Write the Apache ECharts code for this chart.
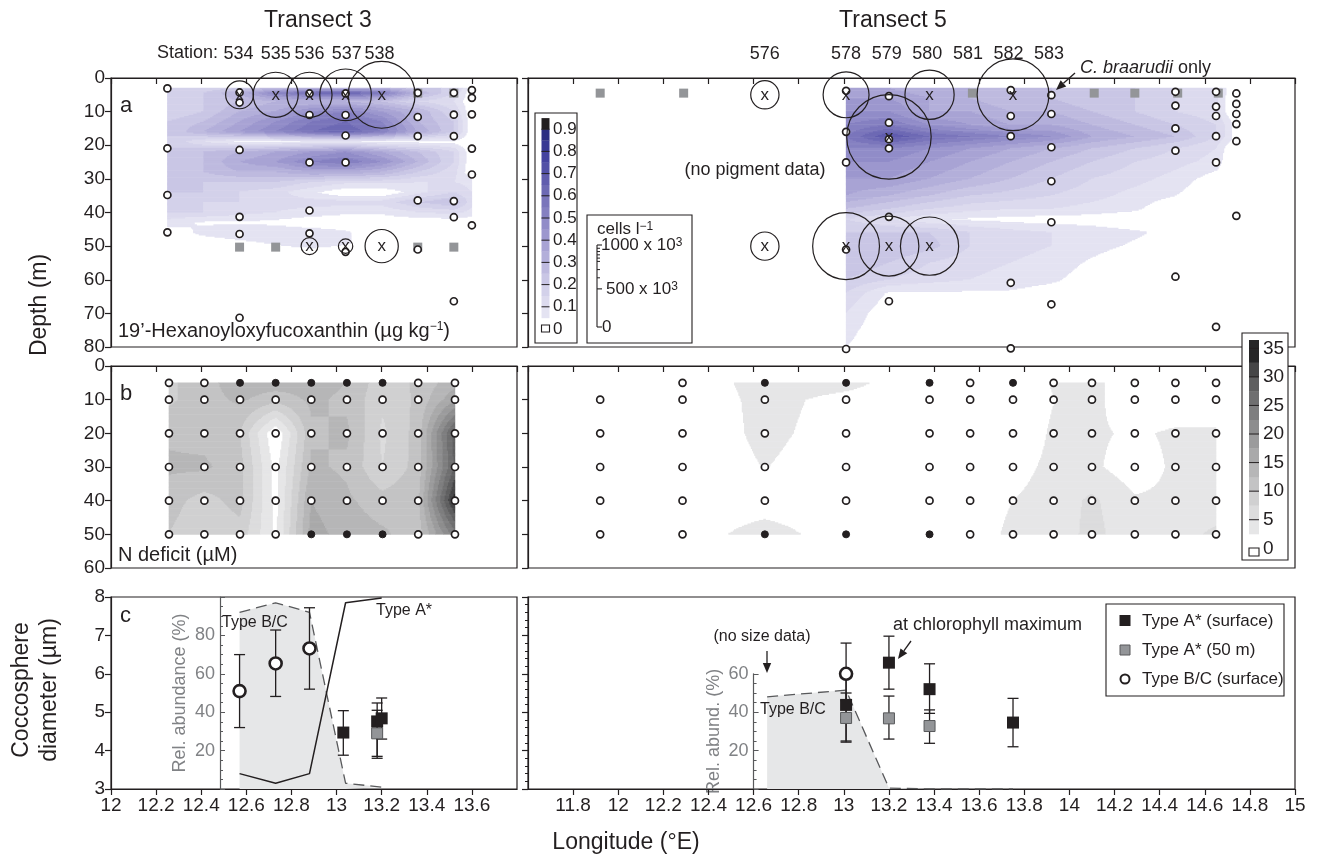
<!DOCTYPE html>
<html>
<head>
<meta charset="utf-8">
<title>Transects 3 and 5</title>
<script src="https://cdn.jsdelivr.net/npm/echarts@6/dist/echarts.min.js"></script>
<style>
  html, body { margin: 0; padding: 0; background: #fff; }
  #chart { width: 1320px; height: 858px; }
</style>
</head>
<body>
<div id="chart"></div>
<script>
// ---------------- station labels ----------------
const stationT3 = ['534', '535', '536', '537', '538'];
const stationLonT3 = [12.565, 12.73, 12.88, 13.045, 13.19];
const stationT5 = ['576', '578', '579', '580', '581', '582', '583'];
const stationLonT5 = [12.65, 13.01, 13.19, 13.37, 13.55, 13.73, 13.91];

// ---------------- panel a: 19'-Hex (ug/kg), gridded ----------------
const hexT3Lon = [12.25, 12.41, 12.57, 12.73, 12.89, 13.04, 13.20, 13.36, 13.52, 13.60];
const hexT3Depth = [3, 4.5, 7, 10, 13, 16, 19, 22, 25, 28, 31, 34, 37, 40, 43, 46, 49, 52];
const hexT3 = [
  [0.15, 0.15, 0.20, 0.25, 0.30, 0.30, 0.30, 0.20, 0.20, 0],
  [0.15, 0.20, 0.30, 0.50, 0.60, 0.65, 0.55, 0.30, 0.15, 0],
  [0.15, 0.20, 0.25, 0.30, 0.30, 0.30, 0.25, 0.15, 0.10, 0],
  [0.15, 0.20, 0.30, 0.35, 0.45, 0.50, 0.40, 0.30, 0.15, 0],
  [0.20, 0.25, 0.35, 0.45, 0.55, 0.60, 0.50, 0.30, 0.20, 0],
  [0.20, 0.30, 0.40, 0.50, 0.60, 0.65, 0.55, 0.35, 0.20, 0],
  [0.20, 0.10, 0.03, 0.03, 0.04, 0.04, 0.03, 0.03, 0.03, 0],
  [0.20, 0.25, 0.30, 0.35, 0.40, 0.45, 0.35, 0.25, 0.15, 0],
  [0.20, 0.25, 0.35, 0.40, 0.50, 0.55, 0.45, 0.30, 0.15, 0],
  [0.20, 0.25, 0.30, 0.30, 0.35, 0.35, 0.30, 0.20, 0.12, 0],
  [0.20, 0.20, 0.20, 0.20, 0.15, 0.12, 0.12, 0.10, 0.10, 0.08],
  [0.20, 0.20, 0.15, 0.12, 0.06, 0.00, 0.00, 0.08, 0.15, 0.10],
  [0.20, 0.15, 0.15, 0.12, 0.12, 0.12, 0.12, 0.20, 0.25, 0.12],
  [0.15, 0.15, 0.12, 0.10, 0.08, 0.06, 0.06, 0.10, 0.12, 0.08],
  [0.08, 0.04, 0.04, 0.03, 0.00, 0.00, 0.00, 0.00, 0.00, 0],
  [0.00, 0.07, 0.10, 0.10, 0.09, 0.06, 0.00, 0.00, 0.00, 0],
  [0.00, 0.00, 0.03, 0.06, 0.10, 0.06, 0.00, 0.00, 0.00, 0],
  [0, 0, 0, 0, 0, 0, 0, 0, 0, 0]
];

const hexT5Lon = [13.01, 13.20, 13.38, 13.56, 13.74, 13.92, 14.10, 14.29, 14.47, 14.65, 14.72];
const hexT5Depth = [3, 6, 10, 14, 17.5, 21, 25, 30, 35, 39, 42, 46, 50, 55, 60, 64, 70, 75, 80];
const hexT5 = [
  [0.35, 0.35, 0.30, 0.30, 0.25, 0.25, 0.20, 0.20, 0.15, 0.15, 0],
  [0.40, 0.40, 0.35, 0.30, 0.25, 0.25, 0.20, 0.20, 0.15, 0.12, 0],
  [0.45, 0.45, 0.35, 0.35, 0.30, 0.30, 0.25, 0.20, 0.15, 0.12, 0],
  [0.50, 0.55, 0.45, 0.40, 0.35, 0.35, 0.30, 0.25, 0.20, 0.15, 0.06],
  [0.55, 0.70, 0.60, 0.55, 0.50, 0.45, 0.35, 0.30, 0.25, 0.15, 0.06],
  [0.50, 0.50, 0.45, 0.40, 0.35, 0.30, 0.25, 0.20, 0.15, 0.10, 0],
  [0.45, 0.45, 0.40, 0.35, 0.30, 0.25, 0.20, 0.15, 0.12, 0.08, 0],
  [0.40, 0.40, 0.35, 0.30, 0.25, 0.20, 0.15, 0.12, 0.08, 0.02, 0],
  [0.35, 0.30, 0.25, 0.20, 0.18, 0.15, 0.12, 0.08, 0.05, 0, 0],
  [0.25, 0.20, 0.15, 0.12, 0.10, 0.10, 0.08, 0.06, 0, 0, 0],
  [0.15, 0.10, 0.06, 0.04, 0.03, 0.02, 0.02, 0, 0, 0, 0],
  [0.20, 0.20, 0.20, 0.15, 0.12, 0.10, 0.08, 0.06, 0.03, 0, 0],
  [0.25, 0.25, 0.22, 0.15, 0.12, 0.10, 0.07, 0.04, 0, 0, 0],
  [0.25, 0.20, 0.15, 0.12, 0.10, 0.08, 0.04, 0, 0, 0, 0],
  [0.20, 0.15, 0.12, 0.10, 0.08, 0.06, 0.02, 0, 0, 0, 0],
  [0.15, 0.04, 0.04, 0.04, 0.04, 0.02, 0, 0, 0, 0, 0],
  [0.10, 0, 0, 0, 0, 0, 0, 0, 0, 0, 0],
  [0.07, 0, 0, 0, 0, 0, 0, 0, 0, 0, 0],
  [0.05, 0, 0, 0, 0, 0, 0, 0, 0, 0, 0]
];

// pigment sampling depths [lon, depth]
const hexSamplesT3 = [
  [12.25, 3.1], [12.25, 20.9], [12.25, 34.8], [12.25, 45.9],
  [12.57, 4.3], [12.57, 7.3], [12.57, 21.4], [12.57, 41.3], [12.57, 46.4], [12.57, 71.3],
  [12.88, 4.6], [12.88, 11], [12.88, 25.1], [12.88, 39.4], [12.88, 46.2],
  [13.04, 4.6], [13.04, 11], [13.04, 17.1], [13.04, 25.1], [13.04, 51.7],
  [13.36, 4.4], [13.36, 11.6], [13.36, 17.3], [13.36, 36.4], [13.36, 51],
  [13.52, 4.4], [13.52, 10.9], [13.52, 17.3], [13.52, 36.6], [13.52, 41.4], [13.52, 66.4],
  [13.60, 3.6], [13.60, 5.9], [13.60, 10.8], [13.60, 21], [13.60, 28.7], [13.60, 43.8]
];
const hexSamplesT5 = [
  [13.01, 3.8], [13.01, 16], [13.01, 25.1], [13.01, 51], [13.01, 80.6],
  [13.20, 5.4], [13.20, 13.3], [13.20, 18.2], [13.20, 20.9], [13.20, 41.3], [13.20, 66.4],
  [13.74, 3.6], [13.74, 11.3], [13.74, 17.3], [13.74, 60.9], [13.74, 80.4],
  [13.92, 5.1], [13.92, 10.7], [13.92, 20.6], [13.92, 30.7], [13.92, 42.9], [13.92, 67.3],
  [14.47, 4.1], [14.47, 8.2], [14.47, 15], [14.47, 21.6], [14.47, 59.1],
  [14.65, 4.1], [14.65, 8.5], [14.65, 11.3], [14.65, 17.3], [14.65, 25.1], [14.65, 74],
  [14.74, 4.6], [14.74, 7.7], [14.74, 10.7], [14.74, 13.7], [14.74, 18.8], [14.74, 41]
];

// coccolithophore counts with no cells found [lon, depth]
const zeroCellsT3 = [[13.36, 4.5], [13.52, 4.5], [12.57, 50.3], [12.73, 50.3], [13.36, 50.3], [13.52, 50.3]];
const zeroCellsT5 = [[11.92, 4.5], [12.29, 4.5], [13.57, 4.5], [14.11, 4.5], [14.29, 4.5], [14.48, 4.5], [14.66, 4.5]];

// C. braarudii cell counts [lon, depth, cells (x10^3 per litre)]
const cellsT3 = [
  [12.57, 5, 340], [12.73, 5, 550], [12.88, 5, 550], [13.04, 5, 630], [13.20, 5, 815],
  [12.88, 50, 205], [13.04, 50, 175], [13.20, 50, 405]
];
const cellsT5 = [
  [12.65, 5, 345], [13.01, 5, 560], [13.20, 17.5, 1030], [13.38, 5, 600], [13.75, 5, 875],
  [12.65, 50, 345], [13.01, 50, 815], [13.20, 50, 730], [13.38, 50, 710]
];

// ---------------- panel b: N deficit (uM), gridded ----------------
const ndefDepth = [5, 10, 20, 30, 40, 50];
const ndefT3Lon = [12.257, 12.414, 12.572, 12.73, 12.888, 13.046, 13.204, 13.362, 13.525];
const ndefT3 = [
  [9.5, 11.5, 14, 14, 13.5, 12.5, 8.5, 10.5, 14],
  [9.5, 11.5, 13, 11, 13, 12, 8, 10.5, 17],
  [12, 11.5, 10, 0, 12, 13, 7, 11, 29],
  [13, 13, 11, 1.5, 13, 12, 7.5, 11, 28],
  [11, 9, 11, 1.5, 15, 13, 11, 12, 34],
  [10, 8, 9, 2, 16, 14, 13, 11, 24]
];
const ndefT5Lon = [11.92, 12.285, 12.65, 13.01, 13.38, 13.56, 13.75, 13.93, 14.10, 14.29, 14.47, 14.65];
const ndefT5 = [
  [0, 0, 4, 3.5, 0, 0, 0, 2.8, 3.5, 0, 2.7, 0],
  [0, 0, 3.5, 1.5, 0, 0, 0, 2.4, 3.5, 0, 0, 0],
  [0, 0, 3.3, 1, 0, 0, 0, 3, 3, 2, 3, 3],
  [0, 0, 2.6, 0.5, 0, 0, 1.5, 3.2, 3, 1, 3, 3],
  [0, 0, 0, 0, 0, 0, 2.5, 3.5, 5.5, 2.8, 3, 3.5],
  [0, 0, 4.5, 0, 0, 0, 3.5, 3, 6, 3, 4, 5.5]
];
// nutrient samples drawn as filled dots; missing nodes
const ndefFilledT3 = [[12.572, 5], [12.73, 5], [12.888, 5], [13.046, 5], [13.204, 5], [12.888, 50], [13.046, 50], [13.204, 50]];
const ndefFilledT5 = [[12.65, 5], [13.01, 5], [13.38, 5], [13.75, 5], [12.65, 50], [13.01, 50], [13.38, 50]];
const ndefMissingT5 = [[11.92, 5]];

// ---------------- panel c: relative abundance (%) and size (um) ----------------
const relLonT3 = [12.57, 12.73, 12.88, 13.04, 13.20];
const relBCT3 = [92, 97, 92, 3, 1];
const relAT3 = [8, 3, 8, 97, 99.5];
const relLonT5 = [12.66, 13.01, 13.20, 13.38, 13.56, 13.75];
const relBCT5 = [48, 51.5, 0.5, 0, 0, 0];

// [lon, mean diameter, low, high]
const sizeBCT3 = [[12.57, 5.55, 4.6, 6.5], [12.73, 6.27, 5.41, 7.14], [12.88, 6.66, 5.6, 7.72]];
const sizeAT3 = [[13.03, 4.47, 3.88, 5.04], [13.18, 4.76, 3.8, 5.24], [13.20, 4.84, 4.3, 5.37]];
const sizeA50T3 = [[13.18, 4.45, 3.85, 5.05]];
const sizeBCT5 = [[13.01, 6.0, 5.3, 6.8]];
const sizeAT5 = [[13.01, 5.19, 4.25, 5.9], [13.20, 6.29, 5.6, 6.98], [13.38, 5.6, 4.97, 6.26], [13.75, 4.73, 4.1, 5.36]];
const sizeA50T5 = [[13.01, 4.85, 4.22, 5.5], [13.20, 4.84, 4.3, 5.42], [13.38, 4.64, 4.19, 5.06]];

// colour scale tick labels
const hexTicks = [0, 0.1, 0.2, 0.3, 0.4, 0.5, 0.6, 0.7, 0.8, 0.9];
const ndefTicks = [0, 5, 10, 15, 20, 25, 30, 35];

// ================= drawing =================
const FONT = '"Liberation Sans", Arial, Helvetica, sans-serif';
const INK = '#231f20';
const GRAY_SQ = '#939598';
const CELL_PX = 0.082;          // circle diameter in px per 10^3 cells l^-1

// layout (pixels)
const L_LEFT = 111, L_RIGHT = 517, R_LEFT = 528, R_RIGHT = 1295;
const A_TOP = 78, A_BOT = 347, B_TOP = 366, B_BOT = 568, C_TOP = 597, C_BOT = 789;
const PX_DEG = (R_RIGHT - R_LEFT) / 3.4;
const REL_R_LEFT = R_LEFT + (12.6 - 11.6) * PX_DEG;
const REL_R_H = 0.6 * (C_BOT - C_TOP);

function bilinear(xs, ys, g, x, y) {
  let i = 0; while (i < xs.length - 2 && x > xs[i + 1]) i++;
  let j = 0; while (j < ys.length - 2 && y > ys[j + 1]) j++;
  const tx = (x - xs[i]) / (xs[i + 1] - xs[i]);
  const ty = (y - ys[j]) / (ys[j + 1] - ys[j]);
  const a = g[j][i] * (1 - tx) + g[j][i + 1] * tx;
  const b = g[j + 1][i] * (1 - tx) + g[j + 1][i + 1] * tx;
  return a * (1 - ty) + b * ty;
}

// filled-contour cells: runs of equal band along each thin depth strip
function contourCells(xs, ys, g, step, dx, dy) {
  const out = [];
  const x0 = xs[0], x1 = xs[xs.length - 1], y0 = ys[0], y1 = ys[ys.length - 1];
  const nx = Math.ceil((x1 - x0) / dx), ny = Math.ceil((y1 - y0) / dy);
  const sx = (x1 - x0) / nx, sy = (y1 - y0) / ny;
  for (let j = 0; j < ny; j++) {
    const ya = y0 + j * sy, yb = ya + sy, yc = ya + sy / 2;
    let start = 0, band = -1;
    for (let i = 0; i <= nx; i++) {
      let b = -2;
      if (i < nx) b = Math.floor(bilinear(xs, ys, g, x0 + (i + 0.5) * sx, yc) / step + 1e-9);
      if (b !== band) {
        if (band > 0) out.push([x0 + start * sx, x0 + i * sx, ya, yb, band]);
        band = b; start = i;
      }
    }
  }
  return out;
}

function mix(stops, v) {
  if (v <= stops[0][0]) return stops[0][1];
  for (let k = 0; k < stops.length - 1; k++) {
    const [a, ca] = stops[k], [b, cb] = stops[k + 1];
    if (v <= b) {
      const t = (v - a) / (b - a);
      return ca.map((c, n) => Math.round(c + (cb[n] - c) * t));
    }
  }
  return stops[stops.length - 1][1];
}
const hexStops = [[0.075, [228, 227, 242]], [0.2, [207, 204, 232]], [0.4, [162, 157, 209]],
                  [0.6, [116, 111, 184]], [0.8, [62, 61, 156]], [0.875, [44, 46, 130]]];
function hexColor(band) {
  if (band >= 18) return INK;
  const c = mix(hexStops, band * 0.05 + 0.025);
  return 'rgb(' + c.join(',') + ')';
}
const ndefGrays = [255, 230, 220, 208, 195, 182, 169, 155, 141, 126, 111, 95, 70, 38];
function ndefColor(band) {
  const g = ndefGrays[Math.min(band, ndefGrays.length - 1)];
  return 'rgb(' + g + ',' + g + ',' + (g + 1 > 255 ? 255 : g + 1) + ')';
}

function contourSeries(xi, yi, cells, colorFn) {
  return {
    type: 'custom', xAxisIndex: xi, yAxisIndex: yi, data: cells, silent: true, z: 1,
    encode: { x: [0, 1], y: [2, 3] },
    renderItem: (p, api) => {
      const a = api.coord([api.value(0), api.value(2)]);
      const b = api.coord([api.value(1), api.value(3)]);
      return {
        type: 'rect',
        shape: { x: Math.min(a[0], b[0]) - 0.2, y: Math.min(a[1], b[1]) - 0.3,
                 width: Math.abs(b[0] - a[0]) + 0.4, height: Math.abs(b[1] - a[1]) + 0.6 },
        style: { fill: colorFn(api.value(4)) }
      };
    }
  };
}

function errorSeries(xi, yi, rows) {
  return {
    type: 'custom', xAxisIndex: xi, yAxisIndex: yi, silent: true, z: 4,
    data: rows.map(r => [r[0], r[2], r[3]]), encode: { x: 0, y: [1, 2] },
    renderItem: (p, api) => {
      const lo = api.coord([api.value(0), api.value(1)]);
      const hi = api.coord([api.value(0), api.value(2)]);
      const w = 5.5, st = { stroke: INK, lineWidth: 1.3 };
      return { type: 'group', children: [
        { type: 'line', shape: { x1: lo[0], y1: lo[1], x2: hi[0], y2: hi[1] }, style: st },
        { type: 'line', shape: { x1: lo[0] - w, y1: lo[1], x2: lo[0] + w, y2: lo[1] }, style: st },
        { type: 'line', shape: { x1: hi[0] - w, y1: hi[1], x2: hi[0] + w, y2: hi[1] }, style: st }
      ] };
    }
  };
}

function pts(xi, yi, data, style, size, symbol, z) {
  return { type: 'scatter', xAxisIndex: xi, yAxisIndex: yi, data: data, symbol: symbol || 'circle',
           symbolSize: size, itemStyle: Object.assign({ opacity: 1 }, style), silent: true, clip: false, z: z || 4 };
}
const openDot = { color: '#fff', borderColor: INK, borderWidth: 1.7 };
const fillDot = { color: INK, borderColor: INK, borderWidth: 1 };

function cellCircles(xi, yi, data) {
  return {
    type: 'scatter', xAxisIndex: xi, yAxisIndex: yi, data: data, clip: false, silent: true, z: 6,
    symbol: 'circle', symbolSize: v => v[2] * CELL_PX,
    itemStyle: { color: 'rgba(0,0,0,0)', borderColor: INK, borderWidth: 1.2, opacity: 1 },
    label: { show: true, position: 'inside', formatter: 'x', fontFamily: FONT, fontSize: 17, color: INK }
  };
}

function stationSeries(xi, yi, lons, names) {
  return {
    type: 'scatter', xAxisIndex: xi, yAxisIndex: yi, clip: false, silent: true, symbolSize: 0,
    itemStyle: { opacity: 1 },
    data: lons.map((l, i) => ({ value: [l, 0], name: names[i] })),
    label: { show: true, position: 'top', distance: 15, formatter: p => p.name,
             fontFamily: FONT, fontSize: 18, color: INK }
  };
}

// nutrient sample markers from grid nodes
function ndefNodes(lons, filled, missing) {
  const open = [], full = [];
  const has = (list, l, d) => list.some(p => Math.abs(p[0] - l) < 1e-6 && p[1] === d);
  ndefDepth.forEach(d => lons.forEach(l => {
    if (has(missing, l, d)) return;
    (has(filled, l, d) ? full : open).push([l, d]);
  }));
  return { open, full };
}
const nodesT3 = ndefNodes(ndefT3Lon, ndefFilledT3, []);
const nodesT5 = ndefNodes(ndefT5Lon, ndefFilledT5, ndefMissingT5);

// ---------- axes ----------
const axLine = { show: true, lineStyle: { color: INK, width: 1.2 } };
const tick = { show: true, length: 6, lineStyle: { color: INK, width: 1.2 } };
function lonAxis(gi, min, max, labels, hideMin, hideMax) {
  return {
    type: 'value', gridIndex: gi, min: min, max: max, interval: 0.2, position: 'bottom',
    axisLine: axLine, axisTick: tick, splitLine: { show: false },
    axisLabel: { show: labels, color: INK, fontFamily: FONT, fontSize: 19, margin: 7,
                 showMinLabel: !hideMin, showMaxLabel: !hideMax,
                 formatter: v => String(Math.round(v * 10) / 10) }
  };
}
function depthAxis(gi, max, labels) {
  return {
    type: 'value', gridIndex: gi, min: 0, max: max, interval: 10, inverse: true, position: 'left',
    axisLine: axLine, axisTick: tick, splitLine: { show: false },
    axisLabel: { show: labels, color: INK, fontFamily: FONT, fontSize: 19, margin: 6 }
  };
}
function gridBox(left, top, width, height, show) {
  return { left: left, top: top, width: width, height: height, show: show !== false,
           borderColor: INK, borderWidth: 1.2, backgroundColor: 'transparent',
           containLabel: false, outerBoundsMode: 'none' };
}

// ---------- graphic helpers ----------
function T(text, x, y, o) {
  o = o || {};
  return { type: 'text', x: x, y: y, rotation: o.rot || 0, z: 100,
    style: { text: text, fill: o.fill || INK, fontFamily: FONT, fontSize: o.size || 18,
             fontStyle: o.italic ? 'italic' : 'normal',
             textAlign: o.align || 'left', textVerticalAlign: 'middle', rich: o.rich } };
}
function Ln(x1, y1, x2, y2, w) {
  return { type: 'line', z: 100, shape: { x1, y1, x2, y2 }, style: { stroke: INK, lineWidth: w || 1.2 } };
}
function Rc(x, y, w, h, fill, stroke) {
  return { type: 'rect', z: 99, shape: { x, y, width: w, height: h },
           style: { fill: fill || 'none', stroke: stroke || null, lineWidth: 1.1 } };
}
function arrow(x1, y1, x2, y2) {
  const ang = Math.atan2(y2 - y1, x2 - x1), L = 10, W = 4.2;
  const bx = x2 - L * Math.cos(ang), by = y2 - L * Math.sin(ang);
  const nx = -Math.sin(ang) * W, ny = Math.cos(ang) * W;
  return [Ln(x1, y1, bx, by, 1.3),
    { type: 'polygon', z: 100, shape: { points: [[x2, y2], [bx + nx, by + ny], [bx - nx, by - ny]] }, style: { fill: INK } }];
}
const sup = { fontFamily: FONT, fontSize: 12, verticalAlign: 'top', lineHeight: 12, fill: INK };

const g = [];
g.push(T('Transect 3', 318, 21, { size: 23, align: 'center' }));
g.push(T('Transect 5', 893, 21, { size: 23, align: 'center' }));
g.push(T('Station:', 218, 53, { size: 18, align: 'right' }));
g.push(T('a', 120, 106, { size: 22 }));
g.push(T('b', 120, 394, { size: 22 }));
g.push(T('c', 120, 616, { size: 22 }));
g.push(T('19’-Hexanoyloxyfucoxanthin (µg kg{s|−1})', 118, 331,
  { size: 20, rich: { s: sup } }));
g.push(T('(no pigment data)', 755, 170, { size: 18, align: 'center' }));
g.push(T('{i|C. braarudii} only', 1080, 68,
  { size: 18, rich: { i: { fontFamily: FONT, fontSize: 18, fontStyle: 'italic', fill: INK } } }));
g.push(...arrow(1075, 73, 1056, 90));
g.push(T('N deficit (µM)', 118, 555, { size: 20 }));
g.push(T('Type B/C', 222, 623, { size: 16 }));
g.push(T('Type A*', 376, 611, { size: 16 }));
g.push(T('Type B/C', 760, 710, { size: 16 }));
g.push(T('(no size data)', 762, 637, { size: 16, align: 'center' }));
g.push(...arrow(767, 651, 767, 673));
g.push(T('at chlorophyll maximum', 893, 625, { size: 18 }));
g.push(...arrow(911, 641, 898, 659));
g.push(T('Longitude (°E)', 626, 843, { size: 23, align: 'center' }));
g.push(T('Depth (m)', 40, 305, { size: 23, align: 'center', rot: Math.PI / 2 }));
g.push(T('Coccosphere', 22, 690, { size: 23, align: 'center', rot: Math.PI / 2 }));
g.push(T('diameter (µm)', 50, 690, { size: 23, align: 'center', rot: Math.PI / 2 }));

// legend for panel c
g.push(Rc(1106, 604, 178, 92, '#fff', INK));
g.push({ type: 'rect', z: 100, shape: { x: 1119.5, y: 615, width: 11, height: 11 }, style: { fill: INK } });
g.push({ type: 'rect', z: 100, shape: { x: 1120, y: 645, width: 10, height: 10 }, style: { fill: GRAY_SQ, stroke: '#58595b', lineWidth: 1 } });
g.push({ type: 'circle', z: 100, shape: { cx: 1125, cy: 679, r: 4.5 }, style: { fill: '#fff', stroke: INK, lineWidth: 2 } });
g.push(T('Type A* (surface)', 1142, 621, { size: 17 }));
g.push(T('Type A* (50 m)', 1142, 650, { size: 17 }));
g.push(T('Type B/C (surface)', 1142, 679, { size: 17 }));

// colour bar for 19'-Hex
(function () {
  const x = 541.5, w = 8, y0 = 329, per = 222;
  g.push(Rc(535, 113, 42, 230, '#fff', INK));
  for (let k = 1; k <= 18; k++) {
    const ya = y0 - (k + 1) * 0.05 * per, yb = y0 - k * 0.05 * per;
    g.push({ type: 'rect', z: 100, shape: { x: x, y: ya, width: w, height: yb - ya + 0.3 }, style: { fill: hexColor(k) } });
  }
  g.push(Rc(x, 325, w, 7, '#fff', INK));
  hexTicks.forEach(v => {
    if (v > 0) g.push(Ln(x, y0 - v * per, x + w, y0 - v * per, 1));
    g.push(T(String(v), 553, y0 - v * per, { size: 17 }));
  });
})();

// circle size scale
(function () {
  g.push(Rc(587, 215, 105, 128, '#fff', INK));
  g.push(T('cells l{s|−1}', 597, 229, { size: 17, rich: { s: sup } }));
  const x = 597, yTop = 245, yBot = 327, len = yBot - yTop;
  g.push(Ln(x, yTop, x, yBot, 1.1));
  g.push(Ln(x, yTop, x + 5, yTop, 1.1));
  g.push(Ln(x, yBot, x + 5, yBot, 1.1));
  g.push(Ln(x, yBot - 0.5 * len * 0.93, x + 5, yBot - 0.5 * len * 0.93, 1.1));
  [0.96, 0.92, 0.88, 0.84, 0.8, 0.7, 0.6].forEach(f => g.push(Ln(x, yBot - f * len, x + 3, yBot - f * len, 1)));
  g.push(T('1000 x 10{s|3}', 601, yTop, { size: 17, rich: { s: sup } }));
  g.push(T('500 x 10{s|3}', 606, yBot - 0.5 * len * 0.93, { size: 17, rich: { s: sup } }));
  g.push(T('0', 602, yBot, { size: 17 }));
})();

// colour bar for N deficit
(function () {
  const x = 1249, w = 10, y0 = 548.3, per = 200 / 35;
  g.push(Rc(1242, 333, 46, 227, '#fff', INK));
  for (let k = 1; k <= 13; k++) {
    const ya = k === 13 ? 340 : y0 - (k + 1) * 2.5 * per, yb = y0 - k * 2.5 * per;
    g.push({ type: 'rect', z: 100, shape: { x: x, y: ya, width: w, height: yb - ya + 0.3 }, style: { fill: ndefColor(k) } });
  }
  g.push(Rc(x, 548, w, 8, '#fff', INK));
  ndefTicks.forEach(v => {
    if (v > 0) g.push(Ln(x, y0 - v * per, x + w, y0 - v * per, 1));
    g.push(T(String(v), 1263, y0 - v * per, { size: 19 }));
  });
})();

const option = {
  animation: false,
  backgroundColor: '#fff',
  textStyle: { fontFamily: FONT },
  grid: [
    gridBox(L_LEFT, A_TOP, L_RIGHT - L_LEFT, A_BOT - A_TOP),
    gridBox(R_LEFT, A_TOP, R_RIGHT - R_LEFT, A_BOT - A_TOP),
    gridBox(L_LEFT, B_TOP, L_RIGHT - L_LEFT, B_BOT - B_TOP),
    gridBox(R_LEFT, B_TOP, R_RIGHT - R_LEFT, B_BOT - B_TOP),
    gridBox(L_LEFT, C_TOP, L_RIGHT - L_LEFT, C_BOT - C_TOP),
    gridBox(R_LEFT, C_TOP, R_RIGHT - R_LEFT, C_BOT - C_TOP),
    gridBox(REL_R_LEFT, C_BOT - REL_R_H, R_RIGHT - REL_R_LEFT, REL_R_H, false)
  ],
  xAxis: [
    lonAxis(0, 12, 13.8, false, false, true),
    lonAxis(1, 11.6, 15, false, true, false),
    lonAxis(2, 12, 13.8, false, false, true),
    lonAxis(3, 11.6, 15, false, true, false),
    lonAxis(4, 12, 13.8, true, false, true),
    lonAxis(5, 11.6, 15, true, true, false),
    { type: 'value', gridIndex: 6, min: 12.6, max: 15, show: false }
  ],
  yAxis: [
    depthAxis(0, 80, true),
    depthAxis(1, 80, false),
    depthAxis(2, 60, true),
    depthAxis(3, 60, false),
    { type: 'value', gridIndex: 4, min: 3, max: 8, interval: 1, position: 'left',
      axisLine: axLine, axisTick: tick, splitLine: { show: false },
      axisLabel: { color: INK, fontFamily: FONT, fontSize: 19, margin: 6 } },
    { type: 'value', gridIndex: 5, min: 3, max: 8, interval: 1, position: 'left',
      axisLine: axLine, axisTick: tick, splitLine: { show: false }, axisLabel: { show: false },
      minorTick: { show: true, splitNumber: 5, length: 3, lineStyle: { color: INK, width: 1 } } },
    { type: 'value', gridIndex: 4, min: 0, max: 100, interval: 20, position: 'left', offset: -(220 - L_LEFT),
      name: 'Rel. abundance (%)', nameLocation: 'middle', nameGap: 31, nameRotate: 90,
      nameTextStyle: { color: '#808285', fontFamily: FONT, fontSize: 18 },
      axisLine: { show: true, lineStyle: { color: '#58595b', width: 1.2 } },
      axisTick: { show: true, inside: true, length: 5, lineStyle: { color: '#58595b', width: 1 } },
      minorTick: { show: true, splitNumber: 4, length: 3, lineStyle: { color: '#58595b', width: 1 } },
      splitLine: { show: false },
      axisLabel: { color: '#808285', fontFamily: FONT, fontSize: 18, margin: 5, showMinLabel: false, showMaxLabel: false } },
    { type: 'value', gridIndex: 6, min: 0, max: 60, interval: 20, position: 'left',
      name: 'Rel. abund. (%)', nameLocation: 'middle', nameGap: 31, nameRotate: 90,
      nameTextStyle: { color: '#808285', fontFamily: FONT, fontSize: 18 },
      axisLine: { show: true, lineStyle: { color: '#58595b', width: 1.2 } },
      axisTick: { show: true, inside: true, length: 5, lineStyle: { color: '#58595b', width: 1 } },
      minorTick: { show: true, splitNumber: 4, length: 3, lineStyle: { color: '#58595b', width: 1 } },
      splitLine: { show: false },
      axisLabel: { color: '#808285', fontFamily: FONT, fontSize: 18, margin: 5, showMinLabel: false } }
  ],
  series: [
    // panel a
    contourSeries(0, 0, contourCells(hexT3Lon, hexT3Depth, hexT3, 0.05, 0.005, 0.35), hexColor),
    contourSeries(1, 1, contourCells(hexT5Lon, hexT5Depth, hexT5, 0.05, 0.005, 0.35), hexColor),
    pts(0, 0, zeroCellsT3, { color: GRAY_SQ }, 9, 'rect', 3),
    pts(1, 1, zeroCellsT5, { color: GRAY_SQ }, 9, 'rect', 3),
    pts(0, 0, hexSamplesT3, openDot, 7),
    pts(1, 1, hexSamplesT5, openDot, 7),
    cellCircles(0, 0, cellsT3),
    cellCircles(1, 1, cellsT5),
    stationSeries(0, 0, stationLonT3, stationT3),
    stationSeries(1, 1, stationLonT5, stationT5),
    // panel b
    contourSeries(2, 2, contourCells(ndefT3Lon, ndefDepth, ndefT3, 2.5, 0.005, 0.35), ndefColor),
    contourSeries(3, 3, contourCells(ndefT5Lon, ndefDepth, ndefT5, 2.5, 0.005, 0.35), ndefColor),
    pts(2, 2, nodesT3.open, openDot, 7),
    pts(2, 2, nodesT3.full, fillDot, 7),
    pts(3, 3, nodesT5.open, openDot, 7),
    pts(3, 3, nodesT5.full, fillDot, 7),
    // panel c: relative abundance
    { type: 'line', xAxisIndex: 4, yAxisIndex: 6, data: relLonT3.map((l, i) => [l, relBCT3[i]]),
      symbol: 'none', silent: true, z: 1,
      lineStyle: { color: '#58595b', width: 1.3, type: [11, 6] },
      areaStyle: { color: '#e6e7e8', opacity: 1 } },
    { type: 'line', xAxisIndex: 4, yAxisIndex: 6, data: relLonT3.map((l, i) => [l, relAT3[i]]),
      symbol: 'none', silent: true, z: 2, lineStyle: { color: INK, width: 1.5 } },
    { type: 'line', xAxisIndex: 6, yAxisIndex: 7, data: relLonT5.map((l, i) => [l, relBCT5[i]]),
      symbol: 'none', silent: true, z: 1,
      lineStyle: { color: '#58595b', width: 1.3, type: [11, 6] },
      areaStyle: { color: '#e6e7e8', opacity: 1 } },
    // panel c: coccosphere size
    errorSeries(4, 4, sizeBCT3.concat(sizeAT3, sizeA50T3)),
    errorSeries(5, 5, sizeBCT5.concat(sizeAT5, sizeA50T5)),
    pts(4, 4, sizeA50T3.map(r => [r[0], r[1]]), { color: GRAY_SQ, borderColor: '#58595b', borderWidth: 1 }, 11, 'rect', 5),
    pts(4, 4, sizeAT3.map(r => [r[0], r[1]]), { color: INK }, 12, 'rect', 6),
    pts(4, 4, sizeBCT3.map(r => [r[0], r[1]]), { color: '#fff', borderColor: INK, borderWidth: 2.6 }, 12, 'circle', 6),
    pts(5, 5, sizeA50T5.map(r => [r[0], r[1]]), { color: GRAY_SQ, borderColor: '#58595b', borderWidth: 1 }, 11, 'rect', 5),
    pts(5, 5, sizeAT5.map(r => [r[0], r[1]]), { color: INK }, 12, 'rect', 6),
    pts(5, 5, sizeBCT5.map(r => [r[0], r[1]]), { color: '#fff', borderColor: INK, borderWidth: 2.6 }, 12, 'circle', 6)
  ],
  graphic: { elements: g }
};

const chart = echarts.init(document.getElementById('chart'), null, { renderer: 'canvas' });
chart.setOption(option);
</script>
</body>
</html>
